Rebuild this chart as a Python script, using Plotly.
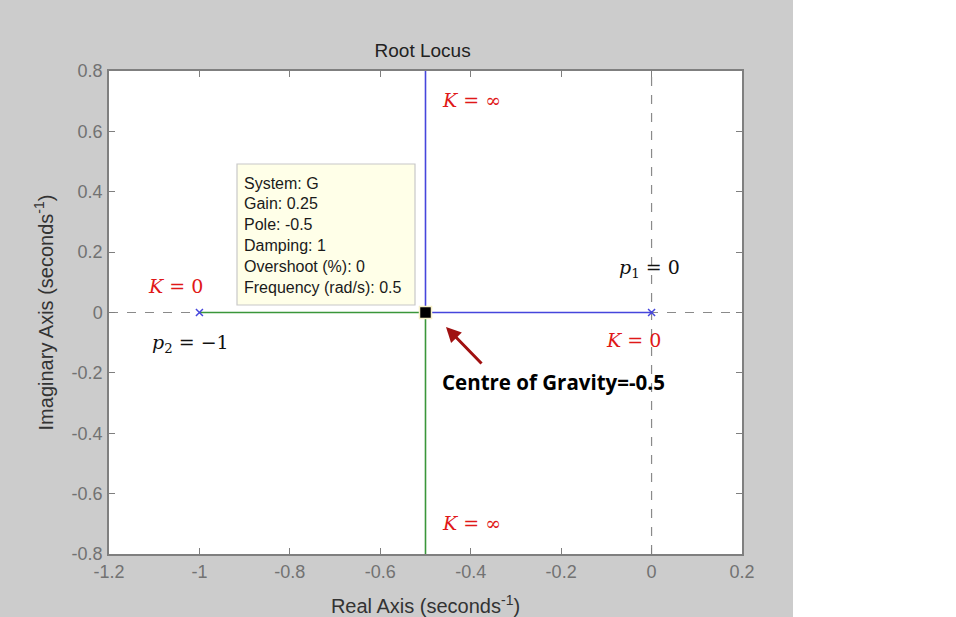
import plotly.graph_objects as go

# ---- data ----
poles_re = [0.0, -1.0]
poles_im = [0.0, 0.0]
branch1_re = [0.0, -0.5, -0.5]
branch1_im = [0.0, 0.0, 0.8]
branch2_re = [-1.0, -0.5, -0.5]
branch2_im = [0.0, 0.0, -0.8]
tip_re = [-0.5]
tip_im = [0.0]
x_ticks = [-1.2, -1.0, -0.8, -0.6, -0.4, -0.2, 0.0, 0.2]
x_ticktext = ["-1.2", "-1", "-0.8", "-0.6", "-0.4", "-0.2", "0", "0.2"]
y_ticks = [-0.8, -0.6, -0.4, -0.2, 0.0, 0.2, 0.4, 0.6, 0.8]
y_ticktext = ["-0.8", "-0.6", "-0.4", "-0.2", "0", "0.2", "0.4", "0.6", "0.8"]
datatip_lines = ["System: G", "Gain: 0.25", "Pole: -0.5", "Damping: 1",
                 "Overshoot (%): 0", "Frequency (rad/s): 0.5"]

W, H = 956, 617
L, R, T, B = 109, 214, 71, 63
PW, PH = W - L - R, H - T - B
X0, X1, Y0, Y1 = -1.2, 0.2, -0.8, 0.8


def px2x(px):
    return X0 + (px - L) / PW * (X1 - X0)


def py2y(py):
    return Y1 - (py - T) / PH * (Y1 - Y0)


fig = go.Figure()

# dashed axes through origin
fig.add_trace(go.Scatter(x=[X0, X1], y=[0, 0], mode="lines",
                         line=dict(color="#8a8a8a", width=1.2, dash="dash"),
                         hoverinfo="skip", showlegend=False))
fig.add_trace(go.Scatter(x=[0, 0], y=[Y0, Y1], mode="lines",
                         line=dict(color="#8a8a8a", width=1.2, dash="dash"),
                         hoverinfo="skip", showlegend=False))
# branches
fig.add_trace(go.Scatter(x=branch1_re, y=branch1_im, mode="lines",
                         line=dict(color="#4646dc", width=1.6), showlegend=False))
fig.add_trace(go.Scatter(x=branch2_re, y=branch2_im, mode="lines",
                         line=dict(color="#3a963a", width=1.6), showlegend=False))
# poles
fig.add_trace(go.Scatter(x=poles_re, y=poles_im, mode="markers",
                         marker=dict(symbol="x-thin", size=7, color="#4646dc",
                                     line=dict(color="#4646dc", width=1.5)),
                         showlegend=False))
# datatip marker
fig.add_trace(go.Scatter(x=tip_re, y=tip_im, mode="markers",
                         marker=dict(symbol="square", size=12, color="black",
                                     line=dict(color="#f5f0c8", width=1.5)),
                         showlegend=False))

# datatip box
fig.add_shape(type="rect", xref="x", yref="y",
              x0=px2x(237), x1=px2x(415), y0=py2y(305), y1=py2y(164),
              fillcolor="#ffffe8", line=dict(color="#c8c8c8", width=1.2), layer="above")
for i, s in enumerate(datatip_lines):
    fig.add_annotation(x=px2x(242), y=py2y(183 + i * 20.8), xref="x", yref="y",
                       text=s, showarrow=False, xanchor="left", yanchor="middle",
                       font=dict(family="Liberation Sans, Arial", size=16, color="#1a1a1a"))

red = "#e01818"
mfont = "DejaVu Serif"
math_labels = [
    ("<i>K</i> = ∞", 471, 100, red),
    ("<i>K</i> = ∞", 471, 523, red),
    ("<i>K</i> = 0", 175, 286, red),
    ("<i>K</i> = 0", 633, 340, red),
    ("<i>p</i><sub>1</sub> = 0", 649, 268, "#111111"),
    ("<i>p</i><sub>2</sub> = −1", 190, 343, "#111111"),
]
for txt, px, py, col in math_labels:
    fig.add_annotation(x=px2x(px), y=py2y(py), xref="x", yref="y", text=txt,
                       showarrow=False, font=dict(family=mfont, size=19, color=col))

fig.add_annotation(x=px2x(553), y=py2y(382), xref="x", yref="y",
                   text="<b>Centre of Gravity=-0.5</b>", showarrow=False,
                   font=dict(family="Open Sans", size=20.5, color="black"))
fig.add_annotation(x=px2x(446), y=py2y(327), xref="x", yref="y", text="",
                   showarrow=True, ax=37, ay=38, arrowhead=2, arrowsize=1,
                   arrowwidth=3, arrowcolor="#a01010", standoff=0)

# white strip to the right of the figure window
fig.add_shape(type="rect", xref="paper", yref="paper",
              x0=(793 - L) / PW, x1=(W - L) / PW + 0.1,
              y0=-B / PH - 0.1, y1=1 + T / PH + 0.1,
              fillcolor="white", line=dict(width=0), layer="above")

axis_common = dict(showgrid=False, zeroline=False, showline=True, linecolor="#7f7f7f",
                   linewidth=1.5, mirror="ticks", ticks="inside", ticklen=6,
                   tickcolor="#7f7f7f", tickwidth=1.2, automargin=False)

fig.update_layout(
    width=W, height=H,
    margin=dict(l=L, r=R, t=T, b=B),
    paper_bgcolor="#cccccc", plot_bgcolor="white",
    title=dict(text="Root Locus", x=(L + PW / 2) / W - 0.003, xanchor="center",
               y=1 - 50 / H, yanchor="middle", automargin=False,
               font=dict(family="Liberation Sans, Arial", size=19, color="#222222")),
    xaxis=dict(range=[X0, X1], tickvals=x_ticks, ticktext=x_ticktext,
               ticklabelstandoff=1,
               tickfont=dict(family="Liberation Sans, Arial", size=18, color="#727272"),
               title=dict(text="Real Axis (seconds<sup>-1</sup>)", standoff=21,
                          font=dict(family="Liberation Sans, Arial", size=20, color="#333333")),
               **axis_common),
    yaxis=dict(range=[Y0, Y1], tickvals=y_ticks, ticktext=y_ticktext,
               ticklabelstandoff=1,
               tickfont=dict(family="Liberation Sans, Arial", size=18, color="#727272"),
               title=dict(text="Imaginary Axis (seconds<sup>-1</sup>)", standoff=13,
                          font=dict(family="Liberation Sans, Arial", size=20, color="#333333")),
               **axis_common),
    showlegend=False,
)

fig.write_html("out.html")
